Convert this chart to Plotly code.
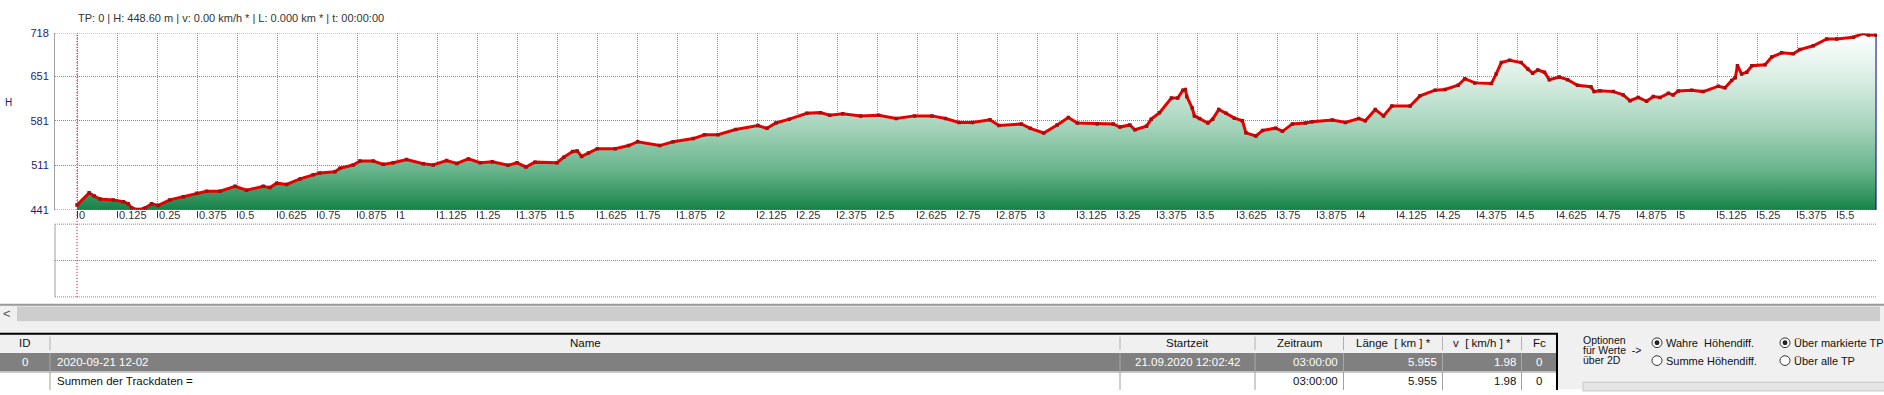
import plotly.graph_objects as go

W, H = 1884, 395

# ---------------- data ----------------
km = [0.000, 0.038, 0.054, 0.072, 0.113, 0.145, 0.160, 0.171, 0.192, 0.213,
      0.233, 0.254, 0.290, 0.332, 0.374, 0.405, 0.447, 0.494, 0.530, 0.582,
      0.603, 0.624, 0.655, 0.697, 0.738, 0.759, 0.806, 0.822, 0.863, 0.884,
      0.926, 0.957, 0.988, 1.030, 1.082, 1.113, 1.155, 1.187, 1.223, 1.260,
      1.298, 1.347, 1.375, 1.403, 1.431, 1.500, 1.521, 1.549, 1.563, 1.577,
      1.598, 1.626, 1.682, 1.724, 1.752, 1.821, 1.863, 1.926, 1.961, 2.003,
      2.058, 2.128, 2.156, 2.184, 2.226, 2.281, 2.323, 2.352, 2.393, 2.449,
      2.505, 2.560, 2.617, 2.672, 2.714, 2.756, 2.798, 2.853, 2.881, 2.951,
      2.979, 3.021, 3.063, 3.098, 3.126, 3.188, 3.238, 3.259, 3.290, 3.306,
      3.342, 3.357, 3.383, 3.420, 3.440, 3.456, 3.464, 3.468, 3.485, 3.492,
      3.508, 3.534, 3.549, 3.568, 3.591, 3.617, 3.642, 3.653, 3.684, 3.705,
      3.746, 3.767, 3.798, 3.839, 3.860, 3.923, 3.964, 4.005, 4.026, 4.057,
      4.083, 4.109, 4.166, 4.197, 4.244, 4.275, 4.316, 4.337, 4.368, 4.420,
      4.435, 4.451, 4.477, 4.513, 4.534, 4.549, 4.565, 4.586, 4.601, 4.632,
      4.658, 4.689, 4.731, 4.741, 4.759, 4.801, 4.832, 4.853, 4.879, 4.905,
      4.926, 4.947, 4.973, 4.988, 5.004, 5.046, 5.082, 5.129, 5.150, 5.171,
      5.182, 5.189, 5.202, 5.218, 5.234, 5.275, 5.296, 5.327, 5.363, 5.384,
      5.426, 5.468, 5.499, 5.551, 5.582, 5.598, 5.622]
elev = [448.6, 467.8, 462.8, 458.0, 456.7, 454.0, 450.6, 444.0, 441.5, 444.0,
        450.6, 448.0, 456.7, 461.7, 467.0, 470.4, 470.4, 478.0, 472.0, 478.0,
        476.0, 483.0, 481.0, 489.7, 496.0, 498.8, 500.8, 506.4, 511.5, 517.6,
        517.6, 512.5, 515.0, 520.0, 513.5, 511.5, 518.6, 514.0, 521.0, 515.0,
        516.5, 511.0, 515.0, 508.4, 516.0, 515.0, 523.6, 532.8, 533.6, 525.0,
        530.2, 537.0, 537.0, 542.0, 548.0, 542.0, 548.0, 553.0, 559.0, 559.0,
        567.3, 573.4, 569.0, 577.4, 583.5, 592.6, 593.7, 589.5, 592.0, 588.6,
        589.5, 584.5, 588.6, 588.6, 584.5, 578.4, 578.4, 582.5, 573.4, 576.0,
        569.0, 561.7, 574.4, 586.0, 577.4, 576.0, 576.0, 571.0, 574.4, 566.8,
        572.4, 583.5, 593.7, 616.5, 616.5, 629.0, 630.0, 619.0, 601.0, 588.6,
        584.5, 577.4, 583.5, 598.7, 592.6, 585.0, 581.0, 562.0, 557.0, 565.8,
        569.3, 564.3, 576.0, 577.4, 579.5, 582.0, 578.4, 584.5, 581.0, 598.7,
        588.6, 604.0, 604.0, 620.0, 629.0, 630.0, 636.7, 647.0, 640.4, 639.3,
        654.5, 672.3, 676.0, 672.3, 662.0, 655.5, 660.6, 657.0, 645.4, 649.5,
        645.4, 636.7, 634.3, 626.7, 628.2, 626.7, 621.5, 612.4, 617.5, 611.5,
        619.0, 617.5, 624.0, 621.5, 627.6, 629.0, 626.7, 635.2, 632.8, 644.3,
        648.5, 667.2, 654.5, 657.0, 667.2, 668.7, 681.0, 687.6, 686.0, 692.6,
        698.7, 709.3, 709.3, 712.0, 718.0, 715.4, 715.4]

x_tick_labels = ["0", "0.125", "0.25", "0.375", "0.5", "0.625", "0.75", "0.875",
                 "1", "1.125", "1.25", "1.375", "1.5", "1.625", "1.75", "1.875",
                 "2", "2.125", "2.25", "2.375", "2.5", "2.625", "2.75", "2.875",
                 "3", "3.125", "3.25", "3.375", "3.5", "3.625", "3.75", "3.875",
                 "4", "4.125", "4.25", "4.375", "4.5", "4.625", "4.75", "4.875",
                 "5", "5.125", "5.25", "5.375", "5.5"]
y_tick_vals = [441, 511, 581, 651, 718]

status_text = "TP: 0 | H: 448.60 m | v: 0.00 km/h * | L: 0.000 km * | t: 00:00:00"
y_title = "H"

table_headers = ["ID", "Name", "Startzeit", "Zeitraum", "Länge\u00a0 [ km ] *",
                 "v\u00a0 [ km/h ] *", "Fc"]
row_track = ["0", "2020-09-21 12-02", "21.09.2020 12:02:42", "03:00:00",
             "5.955", "1.98", "0"]
row_sum = ["", "Summen der Trackdaten =", "", "03:00:00", "5.955", "1.98", "0"]
col_align = ["center", "left", "center", "right", "right", "right", "center"]

options_lines = ["Optionen", "für Werte\u00a0 ->", "über 2D"]
radio_left = ["Wahre\u00a0 Höhendiff.", "Summe Höhendiff."]
radio_right = ["Über markierte TP", "Über alle TP"]
radio_left_sel = [True, False]
radio_right_sel = [True, False]

# ---------------- helpers (pixel -> paper) ----------------
def PX(x):
    return x / W


def PY(y):
    return 1 - y / H


FONT = "Liberation Sans, Arial, sans-serif"
KM_PX = 320.0
X0_PX = 77.0
PLOT_L, PLOT_R = 55.0, 1877.0
PLOT_T, PLOT_B = 28.3, 210.3

fig = go.Figure()

fig.add_trace(go.Scatter(
    x=km, y=elev, mode="lines", fill="tozeroy",
    line=dict(width=0, color="#000080"),
    fillgradient=dict(type="vertical", start=441, stop=718,
                      colorscale=[[0.0, "#08763d"], [0.08, "#2a8f57"],
                                  [0.25, "#68b48c"], [0.5, "#a8d5bd"],
                                  [0.75, "#d9eee3"], [1.0, "#ffffff"]]),
    hoverinfo="skip", showlegend=False))

fig.add_trace(go.Scatter(
    x=km, y=elev, mode="lines+markers",
    line=dict(width=3, color="#e80000"),
    marker=dict(symbol="square", size=3.5, color="#a01010"),
    showlegend=False))

grid_dash = "1px,1px"
fig.update_layout(
    width=W, height=H, margin=dict(l=0, r=0, t=0, b=0),
    paper_bgcolor="white", plot_bgcolor="white",
    font=dict(family=FONT, size=11, color="#222"),
    xaxis=dict(domain=[PX(PLOT_L), PX(PLOT_R)],
               range=[(PLOT_L - X0_PX) / KM_PX, (PLOT_R - X0_PX) / KM_PX],
               tickvals=[float(t) for t in x_tick_labels],
               showticklabels=False, ticks="outside", ticklen=7,
               tickcolor="#333", tickwidth=1,
               showgrid=True, gridcolor="#8a8a8a", gridwidth=1, griddash=grid_dash,
               zeroline=False, showline=False, fixedrange=True),
    yaxis=dict(domain=[PY(PLOT_B), PY(PLOT_T)], range=[441, 718],
               tickvals=y_tick_vals, ticktext=[str(v) for v in y_tick_vals],
               tickfont=dict(family=FONT, size=11, color="#1c1c7a"),
               ticks="outside", ticklen=3, tickcolor="rgba(0,0,0,0)",
               showgrid=True, gridcolor="#8a8a8a", gridwidth=1, griddash=grid_dash,
               zeroline=False, showline=True, linecolor="#a0a0a0", linewidth=1,
               fixedrange=True),
)

shapes = []
annos = []

# grid lines at the frame edges (top / bottom)
for yv in (441, 718):
    shapes.append(dict(type="line", xref="paper", yref="y", x0=PX(PLOT_L), x1=PX(PLOT_R),
                       y0=yv, y1=yv, line=dict(color="#8a8a8a", width=1, dash=grid_dash)))

# right edge of the filled profile
shapes.append(dict(type="line", xref="x", yref="y", x0=km[-1], x1=km[-1],
                   y0=441, y1=elev[-1], line=dict(color="#000080", width=1)))

# lower (empty) panel
shapes.append(dict(type="line", xref="paper", yref="paper", x0=PX(PLOT_L), x1=PX(PLOT_L),
                   y0=PY(300), y1=PY(225), line=dict(color="#a0a0a0", width=1)))
for yy in (225, 262.5, 300):
    shapes.append(dict(type="line", xref="paper", yref="paper", x0=PX(PLOT_L), x1=PX(PLOT_R),
                       y0=PY(yy), y1=PY(yy), line=dict(color="#8a8a8a", width=1, dash=grid_dash)))

# red marker line at TP 0
shapes.append(dict(type="line", xref="x", yref="paper", x0=km[0], x1=km[0],
                   y0=PY(300), y1=PY(PLOT_T), line=dict(color="#cc0000", width=1, dash="1px,2px")))

# bottom UI background, separator, scrollbar
shapes.append(dict(type="rect", xref="paper", yref="paper", x0=0, x1=1, y0=0, y1=PY(308),
                   fillcolor="#f0f0f0", line=dict(width=0), layer="below"))
shapes.append(dict(type="line", xref="paper", yref="paper", x0=0, x1=1, y0=PY(308), y1=PY(308),
                   line=dict(color="#9a9a9a", width=2)))
shapes.append(dict(type="rect", xref="paper", yref="paper", x0=PX(17), x1=PX(1880),
                   y0=PY(325), y1=PY(310), fillcolor="#cdcdcd", line=dict(width=0)))
annos.append(dict(text="<", x=PX(7), y=PY(317.5), xanchor="center", yanchor="middle",
                  font=dict(family=FONT, size=13, color="#555")))

# ---------------- table ----------------
col_edges = [0, 50, 1120, 1255, 1343.5, 1442.5, 1521.5, 1557]
TBL_R = col_edges[-1]
ROW_Y = [(338, 358), (358, 377), (377, 395)]

shapes.append(dict(type="rect", xref="paper", yref="paper", x0=0, x1=PX(TBL_R),
                   y0=PY(ROW_Y[1][1]), y1=PY(ROW_Y[1][0]), fillcolor="#808080", line=dict(width=0)))
shapes.append(dict(type="rect", xref="paper", yref="paper", x0=0, x1=PX(TBL_R),
                   y0=PY(ROW_Y[2][1] + 2), y1=PY(ROW_Y[2][0]), fillcolor="#ffffff", line=dict(width=0)))
for i, xe in enumerate(col_edges[1:-1]):
    shapes.append(dict(type="line", xref="paper", yref="paper", x0=PX(xe), x1=PX(xe),
                       y0=PY(355), y1=PY(341), line=dict(color="#b0b0b0", width=1)))
    shapes.append(dict(type="line", xref="paper", yref="paper", x0=PX(xe), x1=PX(xe),
                       y0=PY(377), y1=PY(358), line=dict(color="#a8a8a8", width=1)))
    shapes.append(dict(type="line", xref="paper", yref="paper", x0=PX(xe), x1=PX(xe),
                       y0=PY(396), y1=PY(377), line=dict(color="#a0a0a0", width=1)))
shapes.append(dict(type="line", xref="paper", yref="paper", x0=0, x1=PX(TBL_R),
                   y0=PY(377.5), y1=PY(377.5), line=dict(color="#a0a0a0", width=1)))
shapes.append(dict(type="line", xref="paper", yref="paper", x0=0, x1=PX(TBL_R + 1),
                   y0=PY(338), y1=PY(338), line=dict(color="#000", width=2)))
shapes.append(dict(type="line", xref="paper", yref="paper", x0=PX(TBL_R), x1=PX(TBL_R),
                   y0=PY(396), y1=PY(338), line=dict(color="#000", width=2)))


def cell_anno(text, ci, yc, color, align):
    l, r = col_edges[ci], col_edges[ci + 1]
    if align == "left":
        x, xa = l + 6, "left"
    elif align == "right":
        x, xa = r - 5, "right"
    else:
        x, xa = (l + r) / 2, "center"
    return dict(text=text, x=PX(x), y=PY(yc), xanchor=xa, yanchor="middle",
                font=dict(family=FONT, size=11.5, color=color))


for ci, t in enumerate(table_headers):
    annos.append(cell_anno(t, ci, 348, "#111", "center"))
for ci, t in enumerate(row_track):
    if t:
        annos.append(cell_anno(t, ci, 367.5, "#ffffff", col_align[ci]))
for ci, t in enumerate(row_sum):
    if t:
        annos.append(cell_anno(t, ci, 386.5, "#111", col_align[ci]))

# ---------------- options panel ----------------
for i, t in enumerate(options_lines):
    annos.append(dict(text=t, x=PX(1582), y=PY(344.5 + i * 10.5), xanchor="left", yanchor="middle",
                      font=dict(family=FONT, size=10.5, color="#111")))


def radio(cx, cy, sel):
    r = 5
    out = [dict(type="circle", xref="paper", yref="paper", x0=PX(cx - r), x1=PX(cx + r),
                y0=PY(cy + r), y1=PY(cy - r), fillcolor="#ffffff", line=dict(color="#333", width=1))]
    if sel:
        r2 = 2.5
        out.append(dict(type="circle", xref="paper", yref="paper", x0=PX(cx - r2), x1=PX(cx + r2),
                        y0=PY(cy + r2), y1=PY(cy - r2), fillcolor="#222", line=dict(width=0)))
    return out


radio_y = [347.3, 365.7]
for i in range(2):
    shapes += radio(1657, radio_y[i], radio_left_sel[i])
    annos.append(dict(text=radio_left[i], x=PX(1665), y=PY(radio_y[i]), xanchor="left",
                      yanchor="middle", font=dict(family=FONT, size=11, color="#111")))
    shapes += radio(1785, radio_y[i], radio_right_sel[i])
    annos.append(dict(text=radio_right[i], x=PX(1793), y=PY(radio_y[i]), xanchor="left",
                      yanchor="middle", font=dict(family=FONT, size=11, color="#111")))

shapes.append(dict(type="rect", xref="paper", yref="paper", x0=PX(1583), x1=PX(1886),
                   y0=PY(397), y1=PY(388), fillcolor="#e4e4e4", line=dict(color="#c8c8c8", width=1)))

# ---------------- chart texts ----------------
annos.append(dict(text=status_text, x=PX(77), y=PY(12), xanchor="left", yanchor="middle",
                  font=dict(family=FONT, size=11, color="#333")))
annos.append(dict(text=y_title, x=PX(8), y=PY(100), xanchor="center", yanchor="middle",
                  font=dict(family=FONT, size=10, color="#1c1c7a")))
for t in x_tick_labels:
    annos.append(dict(text=t, x=float(t), xref="x", y=PY(216), xanchor="left", yanchor="middle",
                      xshift=1, font=dict(family=FONT, size=11, color="#333")))

for a in annos:
    a.setdefault("xref", "paper")
    a.setdefault("yref", "paper")
    a["showarrow"] = False
    a["borderpad"] = 0

fig.update_layout(shapes=shapes, annotations=annos)
fig.write_html("out.html")
